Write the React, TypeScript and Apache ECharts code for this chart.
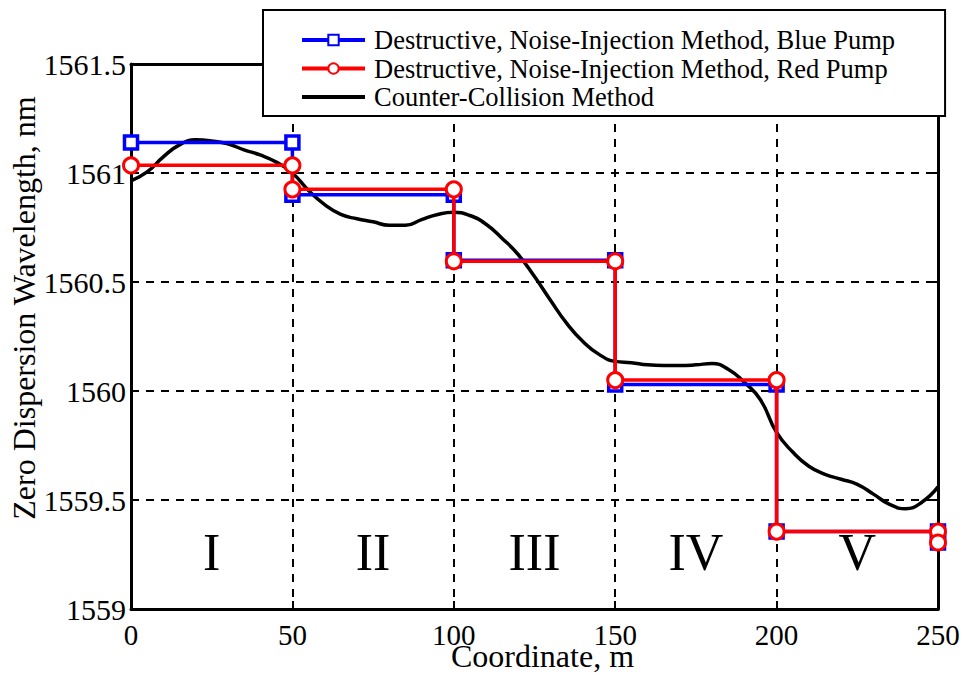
import React, { useEffect, useRef } from "react";
import * as echarts from "echarts";

const blueX = [0, 50, 50, 100, 100, 150, 150, 200, 200, 250, 250];
const blueY = [1561.14, 1561.14, 1560.9, 1560.9, 1560.6, 1560.6, 1560.03, 1560.03, 1559.355, 1559.355, 1559.305];
const redX = [0, 50, 50, 100, 100, 150, 150, 200, 200, 250, 250];
const redY = [1561.035, 1561.035, 1560.925, 1560.925, 1560.595, 1560.595, 1560.05, 1560.05, 1559.355, 1559.355, 1559.305];
const ccX = [0, 5, 10, 15, 20, 25, 30, 35, 40, 45, 50, 55, 60, 65, 70, 75, 80, 85, 90, 95, 100, 105, 110, 115, 120, 125, 130, 135, 140, 145, 150, 155, 160, 165, 170, 175, 180, 185, 190, 195, 200, 205, 210, 215, 220, 225, 230, 235, 240, 245, 250];
const ccY = [1560.964, 1561.005, 1561.074, 1561.129, 1561.152, 1561.147, 1561.134, 1561.106, 1561.083, 1561.05, 1561.0, 1560.92, 1560.855, 1560.81, 1560.79, 1560.776, 1560.76, 1560.76, 1560.786, 1560.81, 1560.82, 1560.805, 1560.765, 1560.70, 1560.625, 1560.525, 1560.415, 1560.31, 1560.227, 1560.168, 1560.136, 1560.13, 1560.12, 1560.117, 1560.117, 1560.12, 1560.126, 1560.1, 1560.04, 1559.96, 1559.81, 1559.72, 1559.655, 1559.618, 1559.595, 1559.572, 1559.527, 1559.48, 1559.46, 1559.49, 1559.56];
const regionNames = ["I", "II", "III", "IV", "V"];
const regionX = [25, 75, 125, 175, 225];
const regionY = [1559.26, 1559.26, 1559.26, 1559.26, 1559.26];

const seriesNames = [
  "Destructive, Noise-Injection Method, Blue Pump",
  "Destructive, Noise-Injection Method, Red Pump",
  "Counter-Collision Method",
];

const FONT = "Liberation Serif";

function zip(xs: number[], ys: number[]) {
  return xs.map((x, i) => [x, ys[i]]);
}

export default function App() {
  const ref = useRef<HTMLDivElement>(null);
  useEffect(() => {
    if (!ref.current) return;
    const chart = echarts.init(ref.current, null, { renderer: "svg" });
    const gridLine = { show: true, lineStyle: { color: "#000", width: 2, type: [8, 7] as any } };
    const axisLine = { show: true, onZero: false, lineStyle: { color: "#000", width: 3 } };
    const tick = { show: true, inside: true, length: 8, lineStyle: { color: "#000", width: 2 } };
    const fmt = (v: number) => String(v);
    chart.setOption({
      animation: false,
      backgroundColor: "#fff",
      textStyle: { fontFamily: FONT, color: "#000" },
      grid: { left: 131, right: 33, top: 64, bottom: 74, containLabel: false, outerBoundsMode: "none" },
      legend: {
        data: [
          { name: seriesNames[0] },
          { name: seriesNames[1] },
          { name: seriesNames[2], itemStyle: { opacity: 0 } },
        ],
        orient: "vertical",
        left: 263,
        top: 10,
        padding: [16, 50, 5, 37],
        itemWidth: 63,
        itemHeight: 13,
        itemGap: 0.5,
        backgroundColor: "#fff",
        borderColor: "#000",
        borderWidth: 2,
        borderRadius: 0,
        lineStyle: { width: 4 },
        textStyle: { fontFamily: FONT, fontSize: 26.5, color: "#000", lineHeight: 28, padding: [0, 0, 0, 4] },
      },
      xAxis: [
        {
          type: "value",
          min: 0,
          max: 250,
          interval: 50,
          name: "Coordinate, m",
          nameLocation: "middle",
          nameGap: 31,
          nameMoveOverlap: false,
          nameTextStyle: { fontFamily: FONT, fontSize: 32, color: "#000", padding: [0, 0, 0, 16] },
          axisLine,
          axisTick: tick,
          axisLabel: { fontFamily: FONT, fontSize: 29, color: "#000", margin: 11, formatter: fmt },
          splitLine: gridLine,
        },
        {
          type: "value",
          position: "top",
          min: 0,
          max: 250,
          interval: 50,
          axisLine,
          axisTick: tick,
          axisLabel: { show: false },
          splitLine: { show: false },
        },
      ],
      yAxis: [
        {
          type: "value",
          min: 1559,
          max: 1561.5,
          interval: 0.5,
          name: "Zero Dispersion Wavelength, nm",
          nameLocation: "middle",
          nameGap: 91,
          nameMoveOverlap: false,
          nameTextStyle: { fontFamily: FONT, fontSize: 32, color: "#000", padding: [0, 0, 0, 57] },
          axisLine,
          axisTick: tick,
          axisLabel: { fontFamily: FONT, fontSize: 30, color: "#000", margin: 5, padding: [10, 0, 0, 0], formatter: fmt },
          splitLine: gridLine,
        },
        {
          type: "value",
          position: "right",
          min: 1559,
          max: 1561.5,
          interval: 0.5,
          axisLine,
          axisTick: tick,
          axisLabel: { show: false },
          splitLine: { show: false },
        },
      ],
      series: [
        {
          name: seriesNames[0],
          type: "line",
          z: 3,
          data: zip(blueX, blueY),
          symbol: "rect",
          symbolSize: 13,
          showAllSymbol: true,
          color: "#0000ff",
          lineStyle: { color: "#0000ff", width: 3.5 },
          itemStyle: { color: "#fff", borderColor: "#0000ff", borderWidth: 3.5 },
        },
        {
          name: seriesNames[1],
          type: "line",
          z: 4,
          data: zip(redX, redY),
          symbol: "circle",
          symbolSize: 15,
          showAllSymbol: true,
          color: "#ff0000",
          lineStyle: { color: "#ff0000", width: 3.5 },
          itemStyle: { color: "#fff", borderColor: "#ff0000", borderWidth: 3 },
        },
        {
          name: seriesNames[2],
          type: "line",
          z: 2,
          data: zip(ccX, ccY),
          smooth: 0.5,
          showSymbol: false,
          symbol: "none",
          color: "#000",
          lineStyle: { color: "#000", width: 3.5 },
        },
        {
          name: "regions",
          type: "scatter",
          z: 1,
          symbolSize: 0,
          itemStyle: { color: "#000", opacity: 1 },
          data: regionX.map((x, i) => ({ value: [x, regionY[i]], name: regionNames[i] })),
          label: {
            show: true,
            position: "inside",
            formatter: (p: any) => p.name,
            fontFamily: FONT,
            fontSize: 52,
            color: "#000",
            opacity: 1,
            textBorderWidth: 0,
          },
          silent: true,
        },
      ],
    });
    return () => chart.dispose();
  }, []);
  return <div ref={ref} style={{ width: 971, height: 683, margin: -8 }} />;
}
